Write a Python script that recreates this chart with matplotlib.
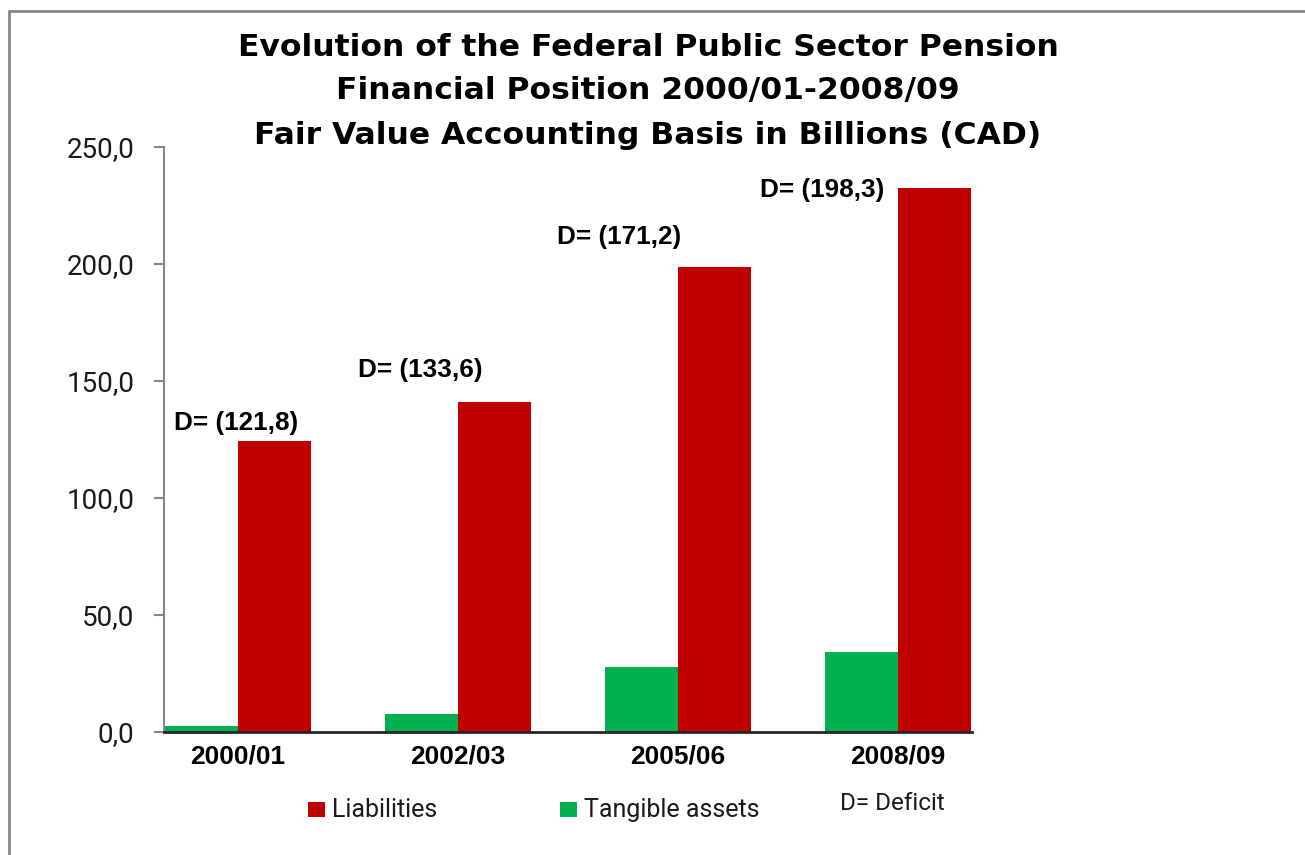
import matplotlib
matplotlib.use("Agg")
import matplotlib.pyplot as plt
from matplotlib.patches import Rectangle
from matplotlib.ticker import FuncFormatter
import numpy as np

# ---- data ----
categories = ["2000/01", "2002/03", "2005/06", "2008/09"]
tangible_assets = [2.6, 7.6, 27.6, 34.2]
liabilities = [124.4, 141.2, 198.8, 232.5]
deficits = [121.8, 133.6, 171.2, 198.3]
series_names = ["Liabilities", "Tangible assets"]
deficit_note = "D= Deficit"
title_lines = ["Evolution of the Federal Public Sector Pension",
               "Financial Position 2000/01-2008/09",
               "Fair Value Accounting Basis in Billions (CAD)"]
yticks = [0, 50, 100, 150, 200, 250]

# ---- layout / style ----
RED = "#C00000"
GREEN = "#00B050"
GREY = "#868686"
W, H = 1305, 855
label_dx = [-0.01, -0.17, -0.27, -0.345]
label_dy = [7.7, 13.3, 12.7, -0.9]
title_y_px = [47, 91, 135]

plt.rcParams['font.family'] = ['Liberation Sans', 'DejaVu Sans']
fig = plt.figure(figsize=(W / 100, H / 100), dpi=100)
ax = fig.add_axes([164 / W, 1 - 732 / H, (972 - 164) / W, (732 - 147) / H])

x = np.arange(len(categories))
bw = 0.332
ax.bar(x - bw / 2, tangible_assets, bw, color=GREEN, edgecolor="none", zorder=2)
ax.bar(x + bw / 2, liabilities, bw, color=RED, edgecolor="none", zorder=2)

ax.set_xlim(-0.336, len(categories) - 1 + 0.336)
ax.set_ylim(0, 250)
ax.set_yticks(yticks)
ax.yaxis.set_major_formatter(FuncFormatter(lambda v, p: f"{v:.1f}".replace(".", ",")))
ax.set_xticks(x)
ax.set_xticklabels(categories, fontsize=19, fontweight="bold")
for lab in ax.get_yticklabels():
    lab.set_fontfamily(["Roboto", "DejaVu Sans"])
    lab.set_fontsize(20)
    lab.set_color("#1a1a1a")
ax.tick_params(axis="y", direction="out", length=7.2, width=1.5, color=GREY, pad=14)
ax.tick_params(axis="x", length=0, pad=9)

for s in ["top", "right"]:
    ax.spines[s].set_visible(False)
ax.spines["left"].set_color(GREY)
ax.spines["left"].set_linewidth(1.5)
ax.spines["bottom"].set_color("#262626")
ax.spines["bottom"].set_linewidth(2)
ax.spines["bottom"].set_zorder(3)

# deficit labels
for i, d in enumerate(deficits):
    ax.text(i + label_dx[i], liabilities[i] + label_dy[i],
            "D= (" + f"{d:.1f}".replace(".", ",") + ")",
            ha="center", va="center", fontsize=18.8, fontweight="bold")

# title
for line, ypx in zip(title_lines, title_y_px):
    fig.text(648 / W, 1 - ypx / H, line, ha="center", va="center",
             fontsize=22.6, fontweight="bold", family=["DejaVu Sans"])

# legend (manual)
leg_y = 1 - 810 / H
for hx, name, col in [(308, series_names[0], RED), (560, series_names[1], GREEN)]:
    fig.add_artist(Rectangle((hx / W, 1 - 817 / H), 17 / W, 15 / H,
                             transform=fig.transFigure, color=col, lw=0))
    fig.text((hx + 24) / W, leg_y, name, ha="left", va="center",
             fontsize=18, family=["Roboto", "DejaVu Sans"], color="#1a1a1a")
fig.text(840 / W, 1 - 803 / H, deficit_note, ha="left", va="center",
         fontsize=17.5, family=["Roboto", "DejaVu Sans"], color="#1a1a1a")

# outer frame
fig.add_artist(Rectangle((9 / W, -0.1), 1.2, 1 - 11 / H + 0.1,
                         transform=fig.transFigure, fill=False,
                         edgecolor=GREY, lw=2))

fig.savefig("out.png", dpi=100)
